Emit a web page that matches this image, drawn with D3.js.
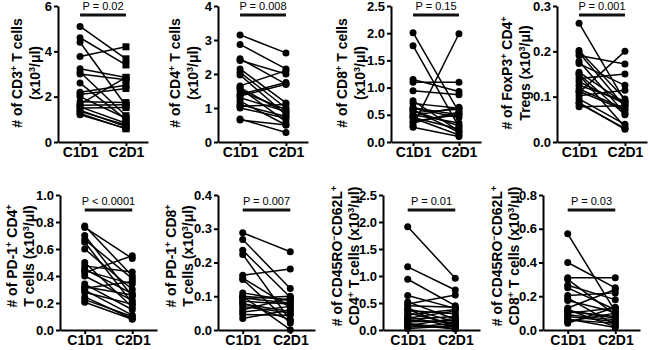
<!DOCTYPE html>
<html>
<head>
<meta charset="utf-8">
<script src="https://cdn.jsdelivr.net/npm/d3@7"></script>
<style>
body { margin: 0; background: #fff; }
svg { display: block; }
text { font-family: "Liberation Sans", Arial, sans-serif; }
</style>
</head>
<body>
<script>
// time points
var cats = ["C1D1", "C2D1"];

// paired values per patient (x10^3/ul)
var cd3C1 = [5.1, 4.6, 4.4, 3.77, 3.23, 3.09, 3.0, 2.6, 2.2, 2.1, 1.78, 1.67, 1.55, 1.4, 1.26, 1.5, 1.62, 1.35, 2.0, 1.2];
var cd3C2 = [3.67, 3.4, 1.6, 4.2, 2.85, 1.16, 2.75, 1.0, 2.5, 2.36, 1.74, 2.85, 0.83, 0.68, 0.58, 1.52, 1.64, 0.75, 1.05, 0.6];

var cd4C1 = [3.15, 2.87, 2.45, 2.4, 2.15, 2.05, 1.97, 1.65, 1.58, 1.4, 1.3, 1.2, 1.05, 1.0, 0.68, 1.1, 1.5, 0.65, 1.35, 1.6];
var cd4C2 = [2.62, 2.15, 1.7, 2.0, 1.15, 1.0, 0.8, 2.1, 0.6, 1.75, 0.9, 0.5, 1.1, 0.7, 0.28, 0.75, 0.95, 0.5, 1.7, 0.85];

var cd8C1 = [2.01, 1.77, 1.15, 1.1, 0.94, 0.76, 0.71, 0.63, 0.59, 0.54, 0.48, 0.44, 0.38, 0.3, 0.27, 0.5, 0.57, 0.35, 0.62, 0.45];
var cd8C2 = [0.55, 0.28, 0.93, 1.1, 0.87, 0.2, 0.62, 0.5, 0.18, 0.6, 0.64, 0.13, 0.5, 1.99, 0.1, 0.35, 0.3, 0.55, 0.45, 0.24];

var tregC1 = [0.262, 0.202, 0.197, 0.191, 0.178, 0.173, 0.154, 0.148, 0.14, 0.133, 0.117, 0.109, 0.102, 0.095, 0.087, 0.078, 0.125, 0.112, 0.085, 0.15];
var tregC2 = [0.09, 0.095, 0.078, 0.172, 0.063, 0.125, 0.085, 0.033, 0.15, 0.084, 0.073, 0.2, 0.114, 0.039, 0.028, 0.08, 0.09, 0.07, 0.03, 0.06];

var pd1cd4C1 = [0.77, 0.76, 0.7, 0.67, 0.65, 0.6, 0.5, 0.475, 0.44, 0.425, 0.4, 0.34, 0.32, 0.295, 0.28, 0.245, 0.225, 0.205, 0.31, 0.45];
var pd1cd4C2 = [0.4, 0.53, 0.25, 0.38, 0.2, 0.3, 0.17, 0.43, 0.34, 0.55, 0.22, 0.15, 0.26, 0.11, 0.19, 0.083, 0.1, 0.08, 0.36, 0.27];

var pd1cd8C1 = [0.288, 0.268, 0.236, 0.224, 0.162, 0.154, 0.15, 0.11, 0.1, 0.093, 0.085, 0.077, 0.06, 0.053, 0.046, 0.034, 0.1, 0.08, 0.07, 0.095];
var pd1cd8C2 = [0.232, 0.123, 0.097, 0.028, 0.181, 0.067, 0.021, 0.087, 0.001, 0.1, 0.077, 0.055, 0.095, 0.07, 0.044, 0.06, 0.09, 0.03, 0.05, 0.08];

var naive4C1 = [1.91, 1.17, 0.94, 0.64, 0.52, 0.48, 0.45, 0.4, 0.36, 0.32, 0.28, 0.25, 0.2, 0.15, 0.12, 0.08, 0.05, 0.03, 0.1, 0.22, 0.38, 0.18];
var naive4C2 = [0.96, 0.74, 0.45, 0.4, 0.2, 0.65, 0.42, 0.15, 0.3, 0.1, 0.38, 0.05, 0.25, 0.18, 0.03, 0.22, 0.12, 0.08, 0.02, 0.35, 0.06, 0.14];

var naive8C1 = [0.57, 0.4, 0.31, 0.3, 0.265, 0.25, 0.205, 0.19, 0.175, 0.13, 0.115, 0.1, 0.08, 0.065, 0.05, 0.04, 0.11, 0.12, 0.09, 0.06];
var naive8C2 = [0.11, 0.25, 0.31, 0.09, 0.18, 0.12, 0.22, 0.03, 0.105, 0.24, 0.07, 0.13, 0.05, 0.015, 0.1, 0.135, 0.08, 0.02, 0.06, 0.04];

// axis maxima and tick steps
var yMax = [6, 4, 2.5, 0.3, 1.0, 0.4, 2.5, 0.8];
var yStep = [2, 1, 0.5, 0.1, 0.2, 0.1, 0.5, 0.2];
var yDecimals = [0, 0, 1, 1, 1, 1, 1, 1];

var pLabels = ["P = 0.02", "P = 0.008", "P = 0.15", "P = 0.001",
               "P < 0.0001", "P = 0.007", "P = 0.01", "P = 0.03"];

// "^c" = superscript character
var titles = [
    ["# of CD3^+ T cells", "(x10^3/\u03bcl)"],
    ["# of CD4^+ T cells", "(x10^3/\u03bcl)"],
    ["# of CD8^+ T cells", "(x10^3/\u03bcl)"],
    ["# of FoxP3^+ CD4^+", "Tregs (x10^3/\u03bcl)"],
    ["# of PD-1^+ CD4^+", "T cells (x10^3/\u03bcl)"],
    ["# of PD-1^+ CD8^+", "T cells (x10^3/\u03bcl)"],
    ["# of CD45RO^\u2212CD62L^+", "CD4^+ T cells (x10^3/\u03bcl)"],
    ["# of CD45RO^\u2212CD62L^+", "CD8^+ T cells (x10^3/\u03bcl)"]
];

var before = [cd3C1, cd4C1, cd8C1, tregC1, pd1cd4C1, pd1cd8C1, naive4C1, naive8C1];
var after = [cd3C2, cd4C2, cd8C2, tregC2, pd1cd4C2, pd1cd8C2, naive4C2, naive8C2];

// layout
var width = 650, height = 350;
var axisX = [58, 218, 391, 557, 60, 218, 383, 543];
var title1Off = [-41, -43, -49, -50, -48, -47, -46, -46];
var title2Off = [-23, -25, -31, -32, -31, -30, -29, -29];
var rowTop = [6, 195];
var rowBottom = [142, 330];
var rowWidth = [90, 97];
var rowPad = [0.48, 0.52];
var pLineY = [15, 210];
var titleMid = [73, 256];

var svg = d3.select("body")
    .append("svg")
    .attr("width", width)
    .attr("height", height);

function richText(sel, str) {
    // split on superscript markers
    var parts = str.split(/\^(.)/);
    var raised = false;
    parts.forEach(function(part, k) {
        if (part === "") return;
        var sup = k % 2 === 1;
        var t = sel.append("tspan").text(part);
        if (sup && !raised) {
            t.attr("font-size", 9).attr("dy", -5);
            raised = true;
        } else if (!sup && raised) {
            t.attr("dy", 5);
            raised = false;
        } else if (sup) {
            t.attr("font-size", 9);
        }
    });
}

function drawPanel(i) {
    var row = i < 4 ? 0 : 1;
    var ax = axisX[i];
    var x = d3.scalePoint()
        .domain(cats)
        .range([ax, ax + rowWidth[row]])
        .padding(rowPad[row]);
    var y = d3.scaleLinear()
        .domain([0, yMax[i]])
        .range([rowBottom[row], rowTop[row]]);
    var g = svg.append("g");

    var pairs = before[i].map(function(v, k) { return [v, after[i][k]]; });

    // connecting lines
    g.selectAll("line.pair")
        .data(pairs)
        .enter()
        .append("line")
        .attr("class", "pair")
        .attr("x1", x("C1D1"))
        .attr("x2", x("C2D1"))
        .attr("y1", function(d) { return y(d[0]); })
        .attr("y2", function(d) { return y(d[1]); })
        .attr("stroke", "#000")
        .attr("stroke-width", 1.5);

    g.selectAll("circle.c1")
        .data(pairs)
        .enter()
        .append("circle")
        .attr("class", "c1")
        .attr("cx", x("C1D1"))
        .attr("cy", function(d) { return y(d[0]); })
        .attr("r", 3.5)
        .attr("fill", "#000");

    if (i === 0) {
        // first panel uses squares for the second time point
        g.selectAll("rect.c2")
            .data(pairs)
            .enter()
            .append("rect")
            .attr("class", "c2")
            .attr("x", x("C2D1") - 3.5)
            .attr("y", function(d) { return y(d[1]) - 3.5; })
            .attr("width", 7)
            .attr("height", 7)
            .attr("fill", "#000");
    } else {
        g.selectAll("circle.c2")
            .data(pairs)
            .enter()
            .append("circle")
            .attr("class", "c2")
            .attr("cx", x("C2D1"))
            .attr("cy", function(d) { return y(d[1]); })
            .attr("r", 3.5)
            .attr("fill", "#000");
    }

    // y axis
    var ticks = d3.range(0, yMax[i] + yStep[i] / 2, yStep[i]);
    var yAxis = d3.axisLeft(y)
        .tickValues(ticks)
        .tickFormat(d3.format("." + yDecimals[i] + "f"))
        .tickSize(4)
        .tickSizeOuter(0);
    var ya = g.append("g")
        .attr("transform", "translate(" + ax + ",0)")
        .call(yAxis);
    ya.select(".domain").attr("stroke-width", 2);
    ya.selectAll(".tick line").attr("stroke-width", 2);
    ya.selectAll(".tick text")
        .attr("font-size", 13)
        .attr("font-weight", "bold")
        .attr("font-family", "Liberation Sans, Arial, sans-serif")
        .attr("fill", "#000")
        .attr("x", -6);

    // x axis
    var xAxis = d3.axisBottom(x).tickSize(4).tickSizeOuter(0);
    var xa = g.append("g")
        .attr("transform", "translate(0," + rowBottom[row] + ")")
        .call(xAxis);
    xa.select(".domain").attr("stroke-width", 2);
    xa.selectAll(".tick line").attr("stroke-width", 2);
    xa.selectAll(".tick text")
        .attr("font-size", 14)
        .attr("font-weight", "bold")
        .attr("font-family", "Liberation Sans, Arial, sans-serif")
        .attr("fill", "#000")
        .attr("y", 5);

    // p-value bar
    g.append("line")
        .attr("x1", x("C1D1"))
        .attr("x2", x("C2D1"))
        .attr("y1", pLineY[row])
        .attr("y2", pLineY[row])
        .attr("stroke", "#111")
        .attr("stroke-width", 3);
    g.append("text")
        .attr("x", (x("C1D1") + x("C2D1")) / 2)
        .attr("y", pLineY[row] - 5)
        .attr("text-anchor", "middle")
        .attr("font-size", 11)
        .text(pLabels[i]);

    // y title, two lines
    [title1Off[i], title2Off[i]].forEach(function(off, k) {
        var t = g.append("text")
            .attr("transform", "translate(" + (ax + off + 5) + "," + titleMid[row] + ") rotate(-90)")
            .attr("text-anchor", "middle")
            .attr("font-size", 14)
            .attr("font-weight", "bold");
        richText(t, titles[i][k]);
    });
}

for (var i = 0; i < 8; i++) {
    drawPanel(i);
}
</script>
</body>
</html>
